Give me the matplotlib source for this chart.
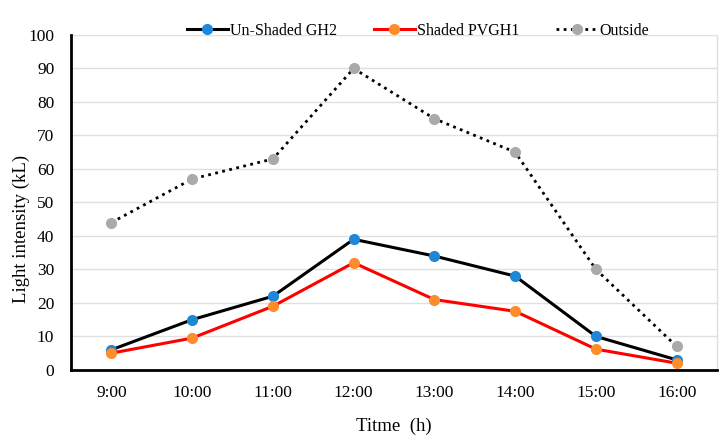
import matplotlib.pyplot as plt
import numpy as np

# data
hours = ['9:00', '10:00', '11:00', '12:00', '13:00', '14:00', '15:00', '16:00']
unshaded = [6, 15, 22, 39, 34, 28, 10, 3]
shaded = [5, 9.5, 19, 32, 21, 17.5, 6.2, 2]
outside = [44, 57, 63, 90, 75, 65, 30, 7]

plt.rcParams['font.family'] = ['Liberation Serif', 'DejaVu Serif']

fig = plt.figure(figsize=(7.28, 4.43), dpi=100)
ax = fig.add_axes([0.0975, 0.165, 0.8875, 0.756])

x = np.arange(len(hours))
ax.plot(x, unshaded, color='black', lw=2.2, marker='o', ms=7,
        mfc='#1f87d6', mec='#1f87d6', label='Un-Shaded GH2', zorder=3)
ax.plot(x, shaded, color='#ff0000', lw=2.2, marker='o', ms=7,
        mfc='#ff8c2a', mec='#ff8c2a', label='Shaded PVGH1', zorder=4)
ax.plot(x, outside, color='black', lw=2, ls=(0, (1, 1.6)), marker='o', ms=7,
        mfc='#aaaaaa', mec='#aaaaaa', label='Outside', zorder=2)

ax.set_xlim(-0.5, len(hours) - 0.5)
ax.set_ylim(0, 100)
ax.set_yticks(range(0, 101, 10))
ax.set_xticks(x)
ax.set_xticklabels(hours)
ax.tick_params(length=0, labelsize=12.5, pad=12)
ax.tick_params(axis='x', pad=11)

ax.grid(axis='y', color='#e0e0e0', lw=1)
ax.set_axisbelow(True)
for s in ['left', 'bottom']:
    ax.spines[s].set_linewidth(2)
    ax.spines[s].set_color('black')
ax.spines['top'].set_visible(False)
ax.spines['right'].set_color('#e0e0e0')
ax.spines['right'].set_linewidth(1)

ax.set_xlabel('Titme  (h)', fontsize=13.5, labelpad=12)
ax.set_ylabel('Light intensity (kL)', fontsize=13.5)
ax.yaxis.set_label_coords(-0.0635, 0.42)

ax.legend(loc='center', bbox_to_anchor=(0.537, 1.012), ncol=3,
          frameon=False, fontsize=11.5, handlelength=2.6, columnspacing=2.3,
          handletextpad=0.12, borderpad=0)

fig.savefig('out.png', dpi=100)
